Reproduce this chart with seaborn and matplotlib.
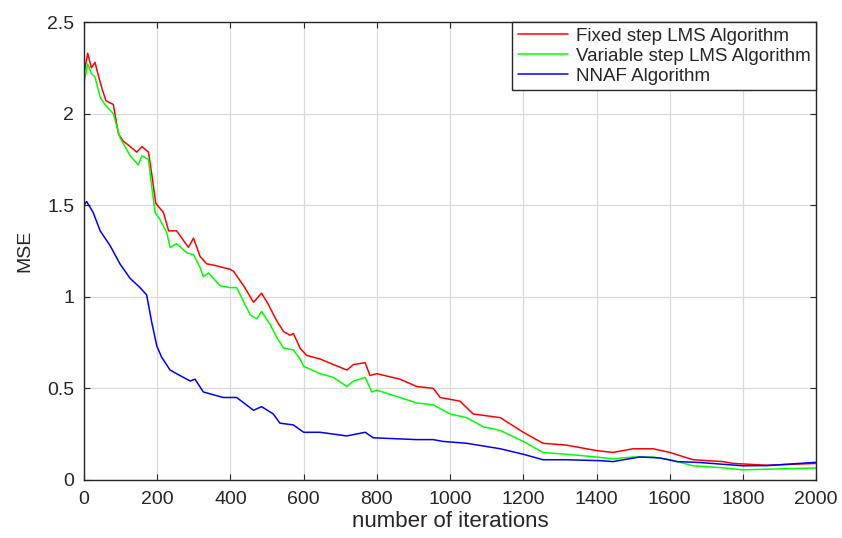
import numpy as np
import pandas as pd
import matplotlib
matplotlib.use("Agg")
import matplotlib.pyplot as plt
import seaborn as sns

# ---- data ----
fixed_it = [0, 10, 20, 30, 40, 50, 60, 80, 94, 107, 126, 144, 158, 176, 185, 196, 217, 231, 253,
            285, 299, 317, 335, 360, 399, 408, 436, 463, 485, 503, 526, 545, 563, 572, 590, 608,
            645, 681, 718, 736, 768, 781, 800, 863, 909, 954, 973, 1000, 1027, 1063, 1137, 1200,
            1254, 1318, 1400, 1445, 1500, 1555, 1600, 1664, 1745, 1773, 1865, 2000]
fixed_mse = [2.22, 2.33, 2.25, 2.28, 2.20, 2.13, 2.07, 2.05, 1.89, 1.85, 1.82, 1.79, 1.82, 1.79,
             1.67, 1.51, 1.46, 1.36, 1.36, 1.27, 1.32, 1.22, 1.18, 1.17, 1.15, 1.14, 1.06, 0.97,
             1.02, 0.96, 0.87, 0.81, 0.79, 0.80, 0.72, 0.68, 0.66, 0.63, 0.60, 0.63, 0.64, 0.57,
             0.58, 0.55, 0.51, 0.50, 0.45, 0.44, 0.43, 0.36, 0.34, 0.26, 0.20, 0.19, 0.16, 0.15,
             0.17, 0.17, 0.15, 0.11, 0.10, 0.09, 0.08, 0.09]

var_it = [0, 10, 20, 30, 44, 57, 80, 98, 126, 148, 158, 176, 185, 194, 208, 226, 235, 253, 281,
          299, 317, 326, 340, 372, 399, 417, 454, 472, 485, 508, 526, 545, 572, 590, 600, 645,
          681, 718, 736, 768, 786, 800, 863, 909, 954, 1000, 1045, 1091, 1137, 1200, 1254, 1318,
          1400, 1445, 1500, 1555, 1600, 1664, 1745, 1800, 2000]
var_mse = [2.17, 2.27, 2.22, 2.20, 2.09, 2.05, 2.00, 1.87, 1.77, 1.72, 1.77, 1.75, 1.60, 1.46,
           1.42, 1.35, 1.27, 1.29, 1.24, 1.23, 1.16, 1.11, 1.13, 1.06, 1.05, 1.05, 0.90, 0.88,
           0.92, 0.85, 0.78, 0.72, 0.71, 0.66, 0.62, 0.58, 0.56, 0.51, 0.54, 0.56, 0.48, 0.49,
           0.45, 0.42, 0.41, 0.36, 0.34, 0.29, 0.27, 0.21, 0.15, 0.14, 0.125, 0.115, 0.125,
           0.125, 0.11, 0.077, 0.066, 0.055, 0.065]

nnaf_it = [0, 7, 25, 44, 71, 98, 126, 153, 171, 185, 199, 212, 235, 262, 290, 303, 326, 380,
           417, 463, 485, 517, 535, 572, 600, 645, 718, 768, 790, 909, 954, 981, 1045, 1137,
           1200, 1254, 1318, 1410, 1445, 1518, 1573, 1620, 1682, 1800, 1865, 2000]
nnaf_mse = [1.50, 1.52, 1.46, 1.36, 1.28, 1.18, 1.10, 1.05, 1.01, 0.86, 0.73, 0.67, 0.60, 0.57,
            0.54, 0.55, 0.48, 0.45, 0.45, 0.38, 0.40, 0.36, 0.31, 0.30, 0.26, 0.26, 0.24, 0.26,
            0.23, 0.22, 0.22, 0.21, 0.20, 0.17, 0.14, 0.11, 0.11, 0.105, 0.10, 0.125, 0.12,
            0.10, 0.095, 0.077, 0.078, 0.096]

labels = ["Fixed step LMS Algorithm", "Variable step LMS Algorithm", "NNAF Algorithm"]
colors = ["#ff0000", "#00ff00", "#0000ff"]
x_ticks = [0, 200, 400, 600, 800, 1000, 1200, 1400, 1600, 1800, 2000]
y_ticks = [0, 0.5, 1, 1.5, 2, 2.5]
y_tick_labels = ["0", "0.5", "1", "1.5", "2", "2.5"]

df = pd.concat([
    pd.DataFrame({"it": fixed_it, "mse": fixed_mse, "alg": labels[0]}),
    pd.DataFrame({"it": var_it, "mse": var_mse, "alg": labels[1]}),
    pd.DataFrame({"it": nnaf_it, "mse": nnaf_mse, "alg": labels[2]}),
], ignore_index=True)

sns.set_theme(style="whitegrid")
plt.rcParams["font.family"] = ["Liberation Sans", "DejaVu Sans"]

fig = plt.figure(figsize=(8.42, 5.38), dpi=100)
ax = fig.add_axes([0.0998, 0.108, 0.8695, 0.851])

sns.lineplot(data=df, x="it", y="mse", hue="alg", hue_order=labels,
             palette=colors, linewidth=1.1, ax=ax, sort=False, estimator=None)

ax.set_xlim(0, 2000)
ax.set_ylim(0, 2.5)
ax.set_xticks(x_ticks)
ax.set_xticklabels([str(v) for v in x_ticks])
ax.set_yticks(y_ticks)
ax.set_yticklabels(y_tick_labels)
ax.tick_params(axis="both", which="both", direction="in", length=4, width=0.8,
               colors="#262626", labelsize=14, top=True, right=True,
               bottom=True, left=True)
ax.tick_params(axis="x", pad=8)
ax.tick_params(axis="y", pad=7)
ax.grid(True, color="#d9d9d9", linewidth=0.9)
ax.set_facecolor("white")
for s in ax.spines.values():
    s.set_visible(True)
    s.set_color("#262626")
    s.set_linewidth(1.0)

ax.set_xlabel("number of iterations", fontsize=16, color="#262626", labelpad=2)
ax.set_ylabel("MSE", fontsize=14, color="#262626", labelpad=10)

leg = ax.legend(loc="upper right", frameon=True, fontsize=13.5, fancybox=False,
                edgecolor="#262626", handlelength=2.7, borderaxespad=0,
                borderpad=0.3, labelspacing=0.15, handletextpad=0.4)
leg.get_frame().set_linewidth(1.0)
leg.get_frame().set_alpha(1)

fig.savefig("out.png", dpi=100, facecolor="white")
